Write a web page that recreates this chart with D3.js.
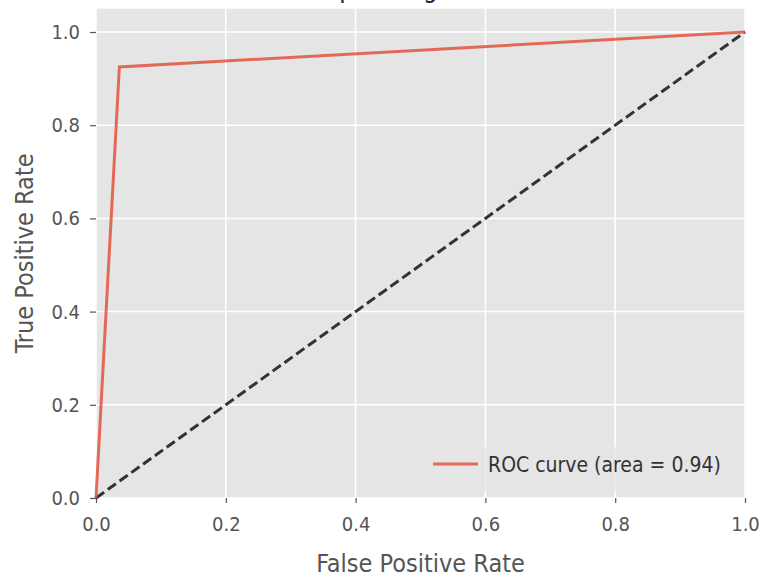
<!DOCTYPE html>
<html><head><meta charset="utf-8">
<script src="https://cdn.jsdelivr.net/npm/d3@7"></script>
<style>
html,body{margin:0;padding:0;background:#fff;}
svg text{font-family:"DejaVu Sans Condensed","DejaVu Sans",sans-serif;font-stretch:condensed;}
</style></head>
<body><svg id="c" width="759" height="579"></svg>
<script>
const fpr = [0, 0.036, 1];
const tpr = [0, 0.925, 1];
const chanceX = [0, 1];
const chanceY = [0, 1];
const xTicks = [0, 0.2, 0.4, 0.6, 0.8, 1.0];
const yTicks = [0, 0.2, 0.4, 0.6, 0.8, 1.0];
const legendLabel = "ROC curve (area = 0.94)";
const titleText = "Receiver operating characteristic";

const svg = d3.select("#c");
const L = 96, R = 745, T = 8.7, B = 498;
const x = d3.scaleLinear().domain([0, 1]).range([L, R]);
const y = d3.scaleLinear().domain([0, 1.05]).range([B, T]);

svg.append("rect").attr("x", L).attr("y", T).attr("width", R - L).attr("height", B - T).attr("fill", "#E5E5E5");

// grid
svg.append("g").selectAll("line").data(xTicks).join("line")
  .attr("x1", d => x(d)).attr("x2", d => x(d)).attr("y1", T).attr("y2", B)
  .attr("stroke", "#fff").attr("stroke-width", 1.5);
svg.append("g").selectAll("line").data(yTicks).join("line")
  .attr("y1", d => y(d)).attr("y2", d => y(d)).attr("x1", L).attr("x2", R)
  .attr("stroke", "#fff").attr("stroke-width", 1.5);

// axes
const fmt = d3.format(".1f");
const xAxis = svg.append("g").attr("transform", `translate(0,${B})`)
  .call(d3.axisBottom(x).tickValues(xTicks).tickFormat(fmt).tickSize(5).tickPadding(14));
const yAxis = svg.append("g").attr("transform", `translate(${L},0)`)
  .call(d3.axisLeft(y).tickValues(yTicks).tickFormat(fmt).tickSize(6).tickPadding(10));
[xAxis, yAxis].forEach(a => {
  a.select(".domain").remove();
  a.selectAll(".tick line").attr("stroke", "#555").attr("stroke-width", 1.2);
  a.selectAll(".tick text").attr("fill", "#555").attr("font-size", 20)
    .style("font-family", '"DejaVu Sans Condensed","DejaVu Sans",sans-serif');
});

// lines
const line = d3.line().x(d => x(d[0])).y(d => y(d[1]));
svg.append("path").datum(d3.zip(chanceX, chanceY)).attr("d", line)
  .attr("fill", "none").attr("stroke", "#333").attr("stroke-width", 3)
  .attr("stroke-dasharray", "10,4.5");
svg.append("path").datum(d3.zip(fpr, tpr)).attr("d", line)
  .attr("fill", "none").attr("stroke", "#E24A33").attr("stroke-width", 3)
  .attr("stroke-opacity", 0.8).attr("stroke-linejoin", "miter");

// legend
const lg = svg.append("g");
lg.append("rect").attr("x", 420).attr("y", 447).attr("width", 318).attr("height", 44)
  .attr("fill", "#E5E5E5").attr("fill-opacity", 0.8);
lg.append("line").attr("x1", 433).attr("x2", 478).attr("y1", 464).attr("y2", 464)
  .attr("stroke", "#E24A33").attr("stroke-width", 3).attr("stroke-opacity", 0.8);
lg.append("text").attr("x", 488).attr("y", 472).attr("font-size", 21).attr("fill", "#333")
  .text(legendLabel);

// labels
svg.append("text").attr("x", (L + R) / 2).attr("y", 572).attr("text-anchor", "middle")
  .attr("font-size", 25).attr("fill", "#555").text("False Positive Rate");
svg.append("text").attr("transform", `translate(33,${(T + B) / 2}) rotate(-90)`)
  .attr("text-anchor", "middle").attr("font-size", 25).attr("fill", "#555").text("True Positive Rate");
svg.append("text").attr("x", (L + R) / 2 - 10).attr("y", -3).attr("text-anchor", "middle")
  .attr("font-size", 26).attr("fill", "#222").text(titleText);
</script></body></html>
